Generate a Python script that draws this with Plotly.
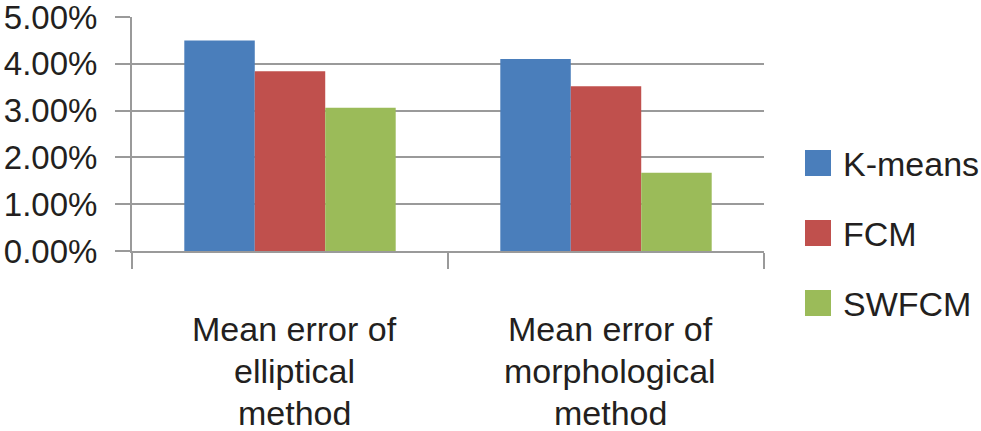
import plotly.graph_objects as go

categories = ["Mean error of elliptical method", "Mean error of morphological method"]
category_lines = [["Mean error of", "elliptical", "method"],
                  ["Mean error of", "morphological", "method"]]
series_names = ["K-means", "FCM", "SWFCM"]
kmeans = [0.0450, 0.0410]
fcm = [0.0384, 0.0352]
swfcm = [0.0306, 0.0167]
series_values = [kmeans, fcm, swfcm]
colors = ["#4A7EBB", "#C0504D", "#9BBB59"]
ytick_vals = [0.0, 0.01, 0.02, 0.03, 0.04, 0.05]
y_max = 0.05

W, H = 981, 431
L, R, T, B = 132, 764, 17, 251  # plot-area edges in px
FONT = "Liberation Sans, Arial, Helvetica, sans-serif"
GRID = "#9a9a9a"
TXT = "#231f20"

fig = go.Figure()
for name, vals, col in zip(series_names, series_values, colors):
    fig.add_trace(go.Bar(x=categories, y=vals, name=name,
                         marker=dict(color=col, line=dict(width=0)),
                         showlegend=False))

pw, ph = R - L, B - T
def px2paper_x(x):
    return (x - L) / pw
def px2paper_y(y):
    return (B - y) / ph

shapes = []
annotations = []
# legend drawn manually (large square swatches)
leg_y = [163, 233, 303]
for name, col, yc in zip(series_names, colors, leg_y):
    shapes.append(dict(type="rect", xref="paper", yref="paper",
                       x0=px2paper_x(805), x1=px2paper_x(831),
                       y0=px2paper_y(yc + 13), y1=px2paper_y(yc - 13),
                       fillcolor=col, line=dict(width=0)))
    annotations.append(dict(text=name, xref="paper", yref="paper",
                            x=px2paper_x(841), y=px2paper_y(yc + 1),
                            xanchor="left", yanchor="middle", showarrow=False,
                            font=dict(size=34, color=TXT, family=FONT)))

# category labels (multi-line with wider spacing)
line_shift = [78, 120, 162]
for cat, lines in zip(categories, category_lines):
    for i, line in enumerate(lines):
        annotations.append(dict(text=line, x=cat, xref="x", y=0, yref="paper",
                                yanchor="middle", xanchor="center",
                                yshift=-line_shift[i], xshift=4, showarrow=False,
                                font=dict(size=34, color=TXT, family=FONT)))

fig.update_layout(
    width=W, height=H,
    margin=dict(l=L, r=W - R, t=T, b=H - B, pad=0, autoexpand=False),
    paper_bgcolor="white", plot_bgcolor="white",
    barmode="group", bargap=0.331, bargroupgap=0,
    font=dict(family=FONT, size=30, color=TXT),
    shapes=shapes, annotations=annotations,
    showlegend=False,
)
fig.update_xaxes(type="category", showticklabels=False, tickson="boundaries",
                 ticks="outside", ticklen=16, tickwidth=2, tickcolor=GRID,
                 showline=True, linecolor=GRID, linewidth=2, showgrid=False,
                 automargin=False)
fig.update_yaxes(range=[0, y_max], tickvals=ytick_vals, tickformat=".2%",
                 ticks="outside", ticklen=15, tickwidth=2, tickcolor=GRID,
                 showline=True, linecolor=GRID, linewidth=2,
                 showgrid=True, gridcolor=GRID, gridwidth=2, zeroline=False,
                 ticklabelstandoff=11, automargin=False,
                 ticklabeloverflow="allow",
                 tickfont=dict(size=33, color=TXT, family=FONT))

fig.write_html("out.html",
               config={"displayModeBar": False},
               post_script="document.body.style.margin='0';"
                           "document.body.style.overflow='hidden';")
